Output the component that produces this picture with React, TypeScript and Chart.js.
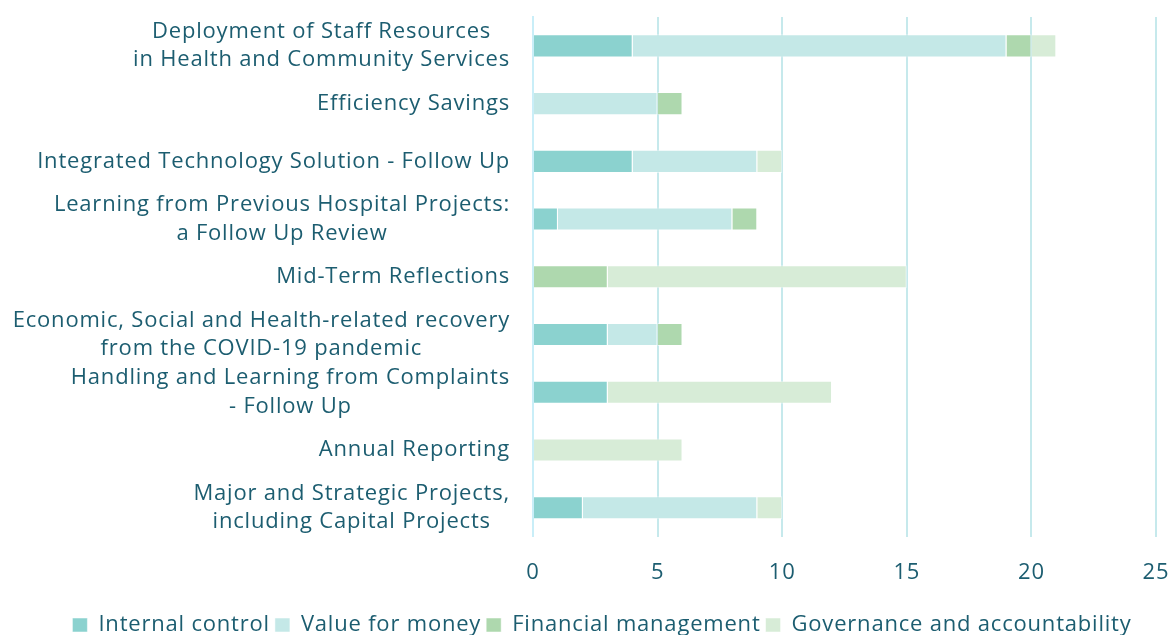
import React, { useEffect, useRef } from "react";
import { Chart, registerables } from "chart.js";

Chart.register(...registerables);

const categories: string[][] = [
  ["Deployment of Staff Resources", "in Health and Community Services"],
  ["Efficiency Savings"],
  ["Integrated Technology Solution - Follow Up"],
  ["Learning from Previous Hospital Projects:", "a Follow Up Review"],
  ["Mid-Term Reflections"],
  ["Economic, Social and Health-related recovery", "from the COVID-19 pandemic"],
  ["Handling and Learning from Complaints", "- Follow Up"],
  ["Annual Reporting"],
  ["Major and Strategic Projects,", "including Capital Projects"],
];

const internalControl = [4, 0, 4, 1, 0, 3, 3, 0, 2];
const valueForMoney = [15, 5, 5, 7, 0, 2, 0, 0, 7];
const financialManagement = [1, 1, 0, 1, 3, 1, 0, 0, 0];
const governance = [1, 0, 1, 0, 12, 0, 9, 6, 1];

const xTicks = [0, 5, 10, 15, 20, 25];

const TEXT = "#1C5D70";
const FONT = "'Open Sans', sans-serif";
const SPACING = "0.8px";

const spacingPlugin = {
  id: "letterSpacing",
  beforeLayout(chart: any) {
    chart.ctx.letterSpacing = SPACING;
  },
  beforeDraw(chart: any) {
    chart.ctx.letterSpacing = SPACING;
  },
};

const labelPlugin = {
  id: "centeredYLabels",
  afterDraw(chart: any) {
    const { ctx, chartArea } = chart;
    const yScale = chart.scales.y;
    ctx.save();
    ctx.letterSpacing = SPACING;
    ctx.font = `22px ${FONT}`;
    ctx.fillStyle = TEXT;
    ctx.textBaseline = "middle";
    ctx.textAlign = "center";
    const right = chartArea.left - 23;
    const lineH = 28.5;
    categories.forEach((lines, i) => {
      const cy = yScale.getPixelForValue(i);
      const maxW = Math.max(...lines.map((l) => ctx.measureText(l).width));
      const cx = right - maxW / 2;
      const startY = cy - ((lines.length - 1) * lineH) / 2;
      lines.forEach((l, j) => ctx.fillText(l, cx, startY + j * lineH));
    });
    ctx.restore();
  },
};

export default function App() {
  const ref = useRef<HTMLCanvasElement | null>(null);
  useEffect(() => {
    document.body.style.margin = "0";
    const ds = (label: string, data: number[], color: string) => ({
      label,
      data,
      backgroundColor: color,
      borderColor: "rgba(255,255,255,0.5)",
      borderWidth: 1,
      barPercentage: 0.8,
      categoryPercentage: 0.5,
    });
    const chart = new Chart(ref.current!, {
      type: "bar",
      data: {
        labels: categories.map((c) => c.join(" ")),
        datasets: [
          ds("Internal control", internalControl, "#8BD2CF"),
          ds("Value for money", valueForMoney, "#C4E8E7"),
          ds("Financial management", financialManagement, "#AED8AE"),
          ds("Governance and accountability", governance, "#D7ECD7"),
        ],
      },
      options: {
        indexAxis: "y",
        animation: false,
        responsive: false,
        layout: { padding: { top: 17, right: 15, left: 48, bottom: 0 } },
        plugins: {
          tooltip: { enabled: false },
          legend: {
            position: "bottom",
            labels: {
              color: TEXT,
              font: { size: 22, family: FONT },
              boxWidth: 15,
              boxHeight: 14,
              padding: 5,
            },
          },
        },
        scales: {
          x: {
            stacked: true,
            min: 0,
            max: 25,
            afterBuildTicks: (s: any) => {
              s.ticks = xTicks.map((v) => ({ value: v }));
            },
            afterFit: (s: any) => {
              s.paddingRight = 0;
            },
            ticks: {
              color: TEXT,
              font: { size: 22, family: FONT },
              padding: 23,
            },
            grid: { color: "#C6E9EC", lineWidth: 2, drawTicks: false },
            border: { display: false },
          },
          y: {
            stacked: true,
            ticks: { display: false },
            grid: { display: false, drawTicks: false },
            border: { color: "#C9EEF8", width: 2 },
            afterFit: (s: any) => {
              s.width = 485;
            },
          },
        },
      },
      plugins: [spacingPlugin, labelPlugin],
    } as any);
    return () => chart.destroy();
  }, []);
  return <canvas ref={ref} width={1171} height={646} style={{ display: "block" }} />;
}
